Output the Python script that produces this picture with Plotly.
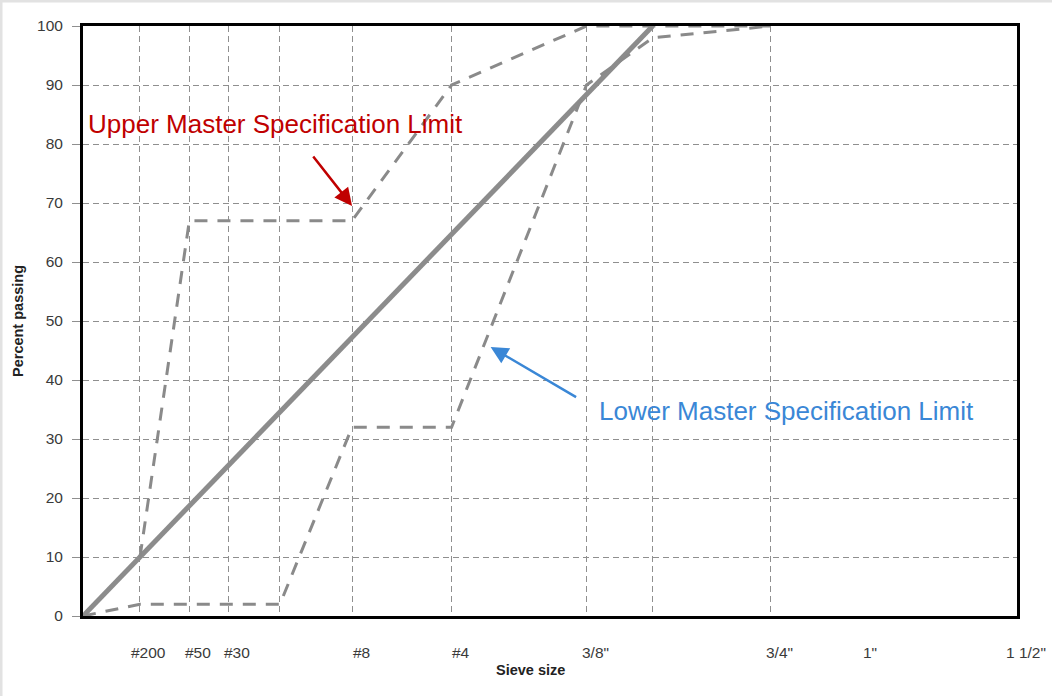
import plotly.graph_objects as go

# ---------------- data ----------------
POWER = 0.45  # 0.45 power gradation chart

grid_sizes_mm = [0.075, 0.3, 0.6, 1.18, 2.36, 4.75, 9.5, 12.5, 19.0]
label_names = ["#200", "#50", "#30", "#8", "#4", '3/8"', '3/4"', '1"', '1 1/2"']
label_sizes_mm = [0.075, 0.3, 0.6, 2.36, 4.75, 9.5, 19.0, 25.0, 37.5]

upper_sizes_mm = [0.075, 0.3, 2.36, 4.75, 9.5, 19.0]
upper_passing = [10, 67, 67, 90, 100, 100]

lower_sizes_mm = [0.0, 0.075, 1.18, 2.36, 4.75, 9.5, 12.5, 19.0]
lower_passing = [0, 2, 2, 32, 32, 90, 98, 100]

maxden_sizes_mm = [0.0, 12.5]
maxden_passing = [0, 100]

y_ticks = list(range(0, 101, 10))
x_max_mm = 37.5


def gx(d):
    return d ** POWER


W, H = 1052, 696
ML, MR, MT, MB = 83, 35, 26, 80
PW, PH = W - ML - MR, H - MT - MB

GRAY = "#8a8a8a"
fig = go.Figure()

fig.add_trace(go.Scatter(
    x=[gx(d) for d in maxden_sizes_mm], y=maxden_passing, mode="lines",
    line=dict(color="#8c8c8c", width=5), showlegend=False, hoverinfo="skip"))
fig.add_trace(go.Scatter(
    x=[gx(d) for d in upper_sizes_mm], y=upper_passing, mode="lines",
    line=dict(color=GRAY, width=3, dash="13px,10px"), showlegend=False, hoverinfo="skip"))
fig.add_trace(go.Scatter(
    x=[gx(d) for d in lower_sizes_mm], y=lower_passing, mode="lines",
    line=dict(color=GRAY, width=3, dash="13px,10px"), showlegend=False, hoverinfo="skip"))

tick_font = dict(family="Liberation Sans, Arial, sans-serif", size=15.5, color="#3a3a3a")

fig.update_layout(
    width=W, height=H,
    margin=dict(l=ML, r=MR, t=MT, b=MB, pad=0),
    paper_bgcolor="white", plot_bgcolor="white",
    xaxis=dict(
        range=[0, gx(x_max_mm)], tickmode="array",
        tickvals=[gx(d) for d in grid_sizes_mm], showticklabels=False, ticks="",
        showgrid=True, gridcolor="#8f8f8f", gridwidth=1.3, griddash="6px,4px",
        zeroline=False, showline=True, mirror=True, linecolor="black", linewidth=3,
    ),
    yaxis=dict(
        range=[0, 100], tickmode="array", tickvals=y_ticks,
        ticks="outside", ticklen=8, tickcolor="#8f8f8f", tickwidth=1.3,
        tickfont=tick_font, ticklabelstandoff=6,
        showgrid=True, gridcolor="#8f8f8f", gridwidth=1.3, griddash="6px,4px",
        zeroline=False, showline=True, mirror=True, linecolor="black", linewidth=3,
    ),
)

# x tick labels (sieve sizes)
for name, d in zip(label_names, label_sizes_mm):
    fig.add_annotation(x=gx(d), y=0, xref="x", yref="paper", text=name,
                       showarrow=False, xanchor="center", yanchor="middle",
                       xshift=9, yshift=-36, font=tick_font)

# axis titles
title_font = dict(family="Liberation Sans, Arial, sans-serif", size=14.5, color="#222222")
fig.add_annotation(x=(530 - ML) / PW, y=-(670 - (MT + PH)) / PH, xref="paper", yref="paper",
                   text="<b>Sieve size</b>", showarrow=False, font=title_font,
                   xanchor="center", yanchor="middle")
fig.add_annotation(x=-(ML - 18) / PW, y=0.5, xref="paper", yref="paper",
                   text="<b>Percent passing</b>", textangle=-90, showarrow=False,
                   font=title_font, xanchor="center", yanchor="middle")

# callouts
ann_font = "Liberation Sans, Arial, sans-serif"
fig.add_annotation(x=(275 - ML) / PW, y=(MT + PH - 124) / PH, xref="paper", yref="paper",
                   text="Upper Master Specification Limit", showarrow=False,
                   xanchor="center", yanchor="middle",
                   font=dict(family=ann_font, size=26, color="#C00000"))
fig.add_annotation(x=gx(2.36), y=69.5, xref="x", yref="y", text="",
                   showarrow=True, arrowhead=2, arrowsize=1.4, arrowwidth=2.5,
                   arrowcolor="#C00000", ax=-40, ay=-51)

fig.add_annotation(x=(786 - ML) / PW, y=(MT + PH - 411) / PH, xref="paper", yref="paper",
                   text="Lower Master Specification Limit", showarrow=False,
                   xanchor="center", yanchor="middle",
                   font=dict(family=ann_font, size=26, color="#3A87D6"))
fig.add_annotation(x=gx(5.94), y=45.6, xref="x", yref="y", text="",
                   showarrow=True, arrowhead=2, arrowsize=1.4, arrowwidth=2.5,
                   arrowcolor="#3A87D6", ax=87, ay=51)

# faint outer frame of the picture (top and left edges)
def px2paper_x(px):
    return (px - ML) / PW


def px2paper_y(py):
    return (MT + PH - py) / PH


fig.add_shape(type="line", xref="paper", yref="paper",
              x0=px2paper_x(0), x1=px2paper_x(W), y0=px2paper_y(1), y1=px2paper_y(1),
              line=dict(color="#e2e2e2", width=3), layer="above")
fig.add_shape(type="line", xref="paper", yref="paper",
              x0=px2paper_x(1), x1=px2paper_x(1), y0=px2paper_y(0), y1=px2paper_y(H),
              line=dict(color="#e2e2e2", width=3), layer="above")

fig.write_html("out.html")
